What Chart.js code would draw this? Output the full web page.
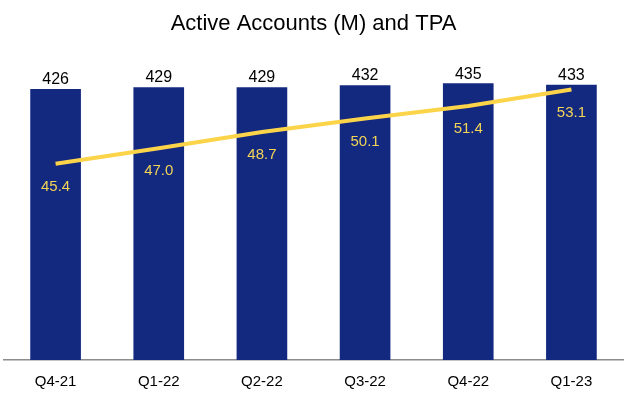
<!DOCTYPE html>
<html>
<head>
<meta charset="utf-8">
<script src="https://cdn.jsdelivr.net/npm/chart.js@4/dist/chart.umd.min.js"></script>
<style>
  html, body { margin: 0; padding: 0; background: #fff; }
  #wrap { width: 627px; height: 394px; }
</style>
</head>
<body>
<div id="wrap"><canvas id="grafica" width="627" height="394"></canvas></div>
<script>
// ===================== DATA =====================
const trimestres = ['Q4-21', 'Q1-22', 'Q2-22', 'Q3-22', 'Q4-22', 'Q1-23'];
const cuentasActivas = [426, 429, 429, 432, 435, 433];
const tpa = [45.4, 47.0, 48.7, 50.1, 51.4, 53.1];

const FUENTE = "'Liberation Sans', Arial, sans-serif";
const AZUL = '#13287f';
const AMARILLO = '#fcd44a';

// ===================== VALUE LABELS =====================
const etiquetasPlugin = {
  id: 'etiquetas',
  afterDatasetsDraw(chart) {
    const ctx = chart.ctx;
    ctx.save();
    ctx.textAlign = 'center';
    ctx.textBaseline = 'middle';

    const barras = chart.getDatasetMeta(1);
    ctx.font = '16px ' + FUENTE;
    ctx.fillStyle = '#000';
    barras.data.forEach((el, i) => {
      ctx.fillText(String(cuentasActivas[i]), el.x, el.y - 9.5);
    });

    const linea = chart.getDatasetMeta(0);
    ctx.font = '15px ' + FUENTE;
    ctx.fillStyle = '#f2d457';
    linea.data.forEach((el, i) => {
      ctx.fillText(tpa[i].toFixed(1), el.x, el.y + 23);
    });
    ctx.restore();
  }
};

new Chart(document.getElementById('grafica'), {
  data: {
    labels: trimestres,
    datasets: [
      {
        type: 'line',
        label: 'TPA',
        data: tpa,
        yAxisID: 'y1',
        borderColor: AMARILLO,
        borderWidth: 4,
        pointRadius: 0,
        tension: 0,
        fill: false,
        order: 0
      },
      {
        type: 'bar',
        label: 'Active Accounts (M)',
        data: cuentasActivas,
        yAxisID: 'y',
        backgroundColor: AZUL,
        barThickness: 50,
        order: 1
      }
    ]
  },
  options: {
    responsive: false,
    animation: false,
    // ticks padding counts twice in the axis height, hence the negative bottom
    layout: { padding: { left: 4, right: 4, bottom: -10 } },
    plugins: {
      legend: { display: false },
      tooltip: { enabled: false },
      title: {
        display: true,
        text: 'Active Accounts (M) and TPA',
        color: '#000',
        font: { family: FUENTE, size: 22, weight: 'normal' },
        padding: { top: 11, bottom: 5 }
      }
    },
    scales: {
      x: {
        grid: { display: false, drawTicks: false },
        border: { display: true, color: '#8c8c8c', width: 1.5 },
        ticks: { color: '#000', padding: 13, font: { family: FUENTE, size: 15 } }
      },
      y: { display: false, min: 0, max: 500 },
      y1: { display: false, min: 25, max: 58 }
    }
  },
  plugins: [etiquetasPlugin]
});
</script>
</body>
</html>
